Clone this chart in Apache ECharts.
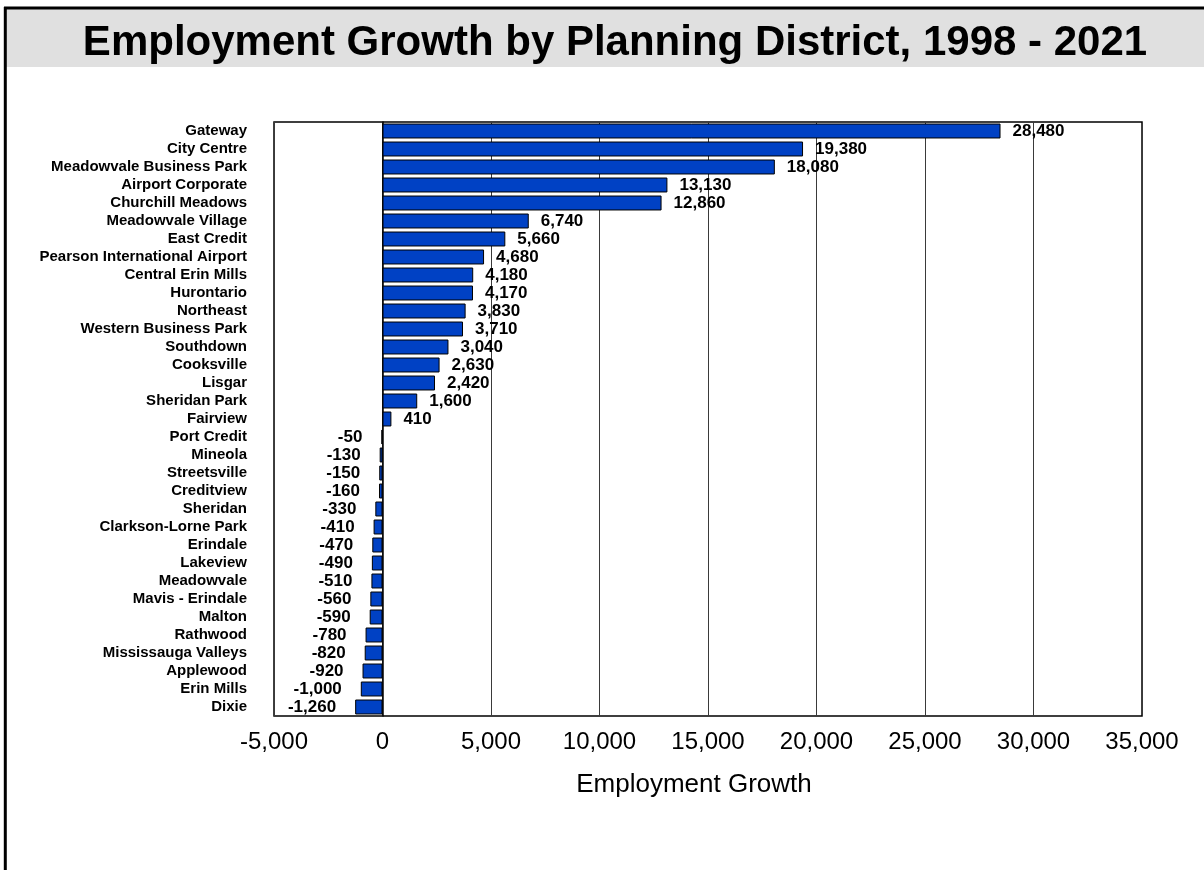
<!DOCTYPE html>
<html>
<head>
<meta charset="utf-8">
<script src="https://cdn.jsdelivr.net/npm/echarts@6/dist/echarts.min.js"></script>
<style>
html,body{margin:0;padding:0;background:#fff;}
#chart{width:1204px;height:870px;}
</style>
</head>
<body>
<div id="chart"></div>
<script>
var titleText = 'Employment Growth by Planning District, 1998 - 2021';
var axisTitle = 'Employment Growth';
var districts = ['Gateway','City Centre','Meadowvale Business Park','Airport Corporate','Churchill Meadows','Meadowvale Village','East Credit','Pearson International Airport','Central Erin Mills','Hurontario','Northeast','Western Business Park','Southdown','Cooksville','Lisgar','Sheridan Park','Fairview','Port Credit','Mineola','Streetsville','Creditview','Sheridan','Clarkson-Lorne Park','Erindale','Lakeview','Meadowvale','Mavis - Erindale','Malton','Rathwood','Mississauga Valleys','Applewood','Erin Mills','Dixie'];
var growth = [28480,19380,18080,13130,12860,6740,5660,4680,4180,4170,3830,3710,3040,2630,2420,1600,410,-50,-130,-150,-160,-330,-410,-470,-490,-510,-560,-590,-780,-820,-920,-1000,-1260];
var axisMin = -5000, axisMax = 35000, axisStep = 5000;

var FONT = 'Arial, "Liberation Sans", sans-serif';
var chart = echarts.init(document.getElementById('chart'), null, {renderer:'canvas'});

var seriesData = growth.map(function(v){
  return {
    value: v,
    label: v < 0 ? {position:'left', distance:19} : {position:'right', distance:12}
  };
});

chart.setOption({
  backgroundColor:'#ffffff',
  animation:false,
  graphic:[
    {type:'rect', z:-10, shape:{x:6,y:9,width:1198,height:58}, style:{fill:'#e0e0e0'}},
    {type:'line', z:10, shape:{x1:4,y1:8,x2:1204,y2:8}, style:{stroke:'#000',lineWidth:3}},
    {type:'line', z:10, shape:{x1:5.3,y1:7,x2:5.3,y2:870}, style:{stroke:'#000',lineWidth:3}}
  ],
  title:{
    text:titleText,
    left:610, top:17, textAlign:'center',
    textStyle:{fontFamily:FONT, fontSize:42, fontWeight:'bold', color:'#000'}
  },
  grid:{
    left:274, right:62, top:122, bottom:154,
    show:true, borderColor:'#000', borderWidth:1.5, backgroundColor:'transparent'
  },
  xAxis:{
    type:'value', min:axisMin, max:axisMax, interval:axisStep,
    axisLine:{show:false},
    axisTick:{show:false},
    splitLine:{show:true, lineStyle:{color:'#3a3a3a', width:1}},
    axisLabel:{
      fontFamily:FONT, fontSize:24, color:'#000', margin:14,
      formatter:function(v){ return v.toLocaleString('en-US'); }
    },
    name:axisTitle, nameLocation:'middle', nameGap:56,
    nameTextStyle:{fontFamily:FONT, fontSize:26, color:'#000', padding:[0,28,0,0]}
  },
  yAxis:{
    type:'category', data:districts, inverse:true,
    axisLine:{show:true, onZero:true, lineStyle:{color:'#000', width:1.5}},
    axisTick:{show:false},
    splitLine:{show:false},
    axisLabel:{
      interval:0, hideOverlap:false,
      fontFamily:FONT, fontSize:15, fontWeight:'bold', color:'#000', margin:27
    }
  },
  series:[{
    type:'bar',
    data:seriesData,
    barCategoryGap:'17%',
    itemStyle:{color:'#0041C4', borderColor:'#000', borderWidth:1},
    label:{
      show:true, fontFamily:FONT, fontSize:17, fontWeight:'bold', color:'#000',
      formatter:function(p){ return p.value.toLocaleString('en-US'); }
    }
  }]
});
</script>
</body>
</html>
